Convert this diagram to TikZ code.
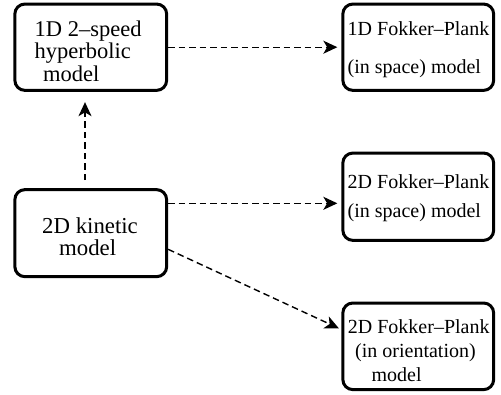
\documentclass[tikz,border=0pt]{standalone}
\usepackage{fontspec}
\setmainfont{Liberation Serif}
\usetikzlibrary{arrows.meta}
\begin{document}
\begin{tikzpicture}[x=1pt,y=-1pt,
  box/.style={draw, rectangle, rounded corners=10pt, line width=3pt, inner sep=0pt},
  txt/.style={anchor=base west, inner sep=0pt},
  arr/.style={line width=1.4pt, dash pattern=on 6.5pt off 4pt,
    -{Stealth[length=14pt,width=13pt,inset=3.8pt]}}]
\useasboundingbox (0,0) rectangle (501,394);

% boxes
\node[box, minimum width=151.8pt, minimum height=86.3pt] (A) at (90.75,47.2) {};
\node[box, minimum width=150.8pt, minimum height=86.3pt] (B) at (418.25,47.2) {};
\node[box, minimum width=151.8pt, minimum height=87pt] (C) at (90.75,233.15) {};
\node[box, minimum width=150.8pt, minimum height=87.3pt] (D) at (418.25,196.7) {};
\node[box, minimum width=150.8pt, minimum height=86.6pt] (E) at (418.25,346.3) {};

% texts
\node[txt, font=\fontsize{22.5}{22.5}\selectfont] (tA) at (34.5,36)
  {\begin{tabular}[t]{@{}l@{}}1D 2–speed\\hyperbolic\\\hspace*{8.5pt}model\end{tabular}};
\node[txt, font=\fontsize{20}{38.3}\selectfont] (tB) at (347.5,35)
  {\begin{tabular}[t]{@{}l@{}}1D Fokker–Plank\\(in space) model\end{tabular}};
\node[txt, font=\fontsize{22.8}{21.7}\selectfont] (tC) at (42,233.3)
  {\begin{tabular}[t]{@{}l@{}}2D kinetic\\\hspace*{17pt}model\end{tabular}};
\node[txt, font=\fontsize{20}{29.4}\selectfont] (tD) at (347.5,188.3)
  {\begin{tabular}[t]{@{}l@{}}2D Fokker–Plank\\(in space) model\end{tabular}};
\node[txt, font=\fontsize{20}{24.2}\selectfont] (tE) at (347.7,333.3)
  {\begin{tabular}[t]{@{}l@{}}2D Fokker–Plank\\\hspace*{7.3pt}(in orientation)\\\hspace*{23.7pt}model\end{tabular}};

% connectors
\draw[arr, shorten >=4pt] (A.east) -- (B.west);
\draw[arr, shorten <=8pt, shorten >=10.3pt] ([xshift=-5.75pt]C.north) -- ([xshift=-5.75pt]A.south);
\coordinate (cd) at ([yshift=29.85pt]C.east);
\draw[arr, shorten >=4pt] (cd) -- (cd -| D.west);
\draw[arr] ([yshift=-16.15pt]C.east) -- ([xshift=-2.5pt,yshift=18pt]E.west);
\end{tikzpicture}
\end{document}
